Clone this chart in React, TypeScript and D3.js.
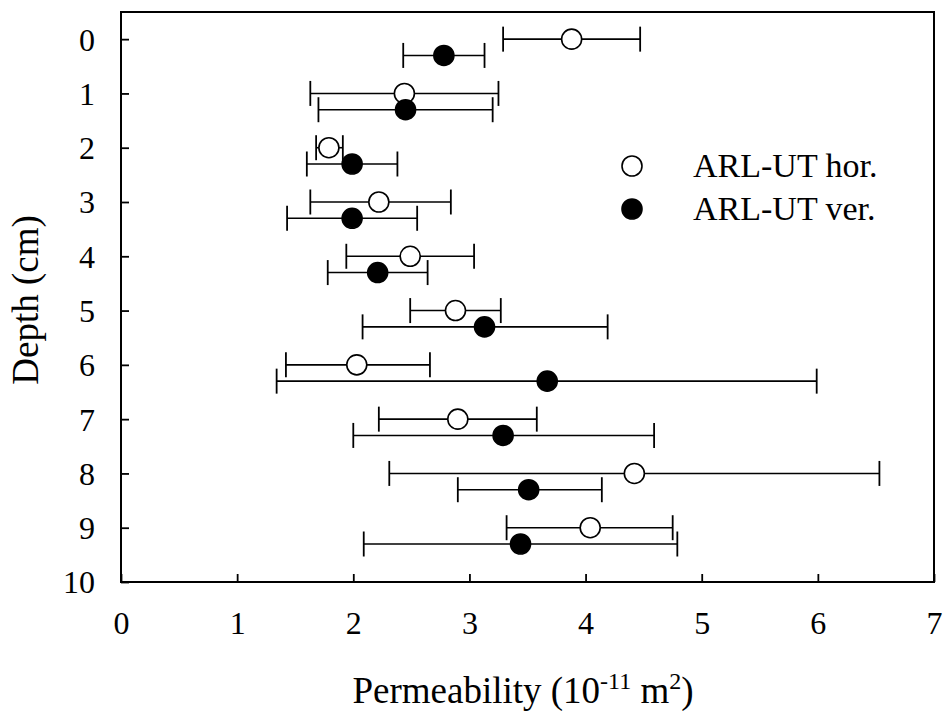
import React, { useEffect, useRef } from "react";
import * as d3 from "d3";

// depths (cm) - horizontal samples sit on the integer, vertical ones slightly below
const horDepth = [0, 1, 2, 3, 4, 5, 6, 7, 8, 9];
const verDepth = [0.3, 1.3, 2.3, 3.3, 4.3, 5.3, 6.3, 7.3, 8.3, 9.3];

// permeability (10^-11 m^2)
const horMean = [3.88, 2.44, 1.79, 2.22, 2.49, 2.88, 2.03, 2.9, 4.42, 4.04];
const horLow = [3.29, 1.63, 1.68, 1.63, 1.94, 2.49, 1.42, 2.22, 2.31, 3.32];
const horHigh = [4.47, 3.25, 1.91, 2.84, 3.04, 3.27, 2.66, 3.58, 6.53, 4.75];

const verMean = [2.78, 2.45, 1.99, 1.99, 2.21, 3.13, 3.67, 3.29, 3.51, 3.44];
const verLow = [2.43, 1.7, 1.6, 1.43, 1.78, 2.08, 1.34, 2.0, 2.9, 2.09];
const verHigh = [3.13, 3.2, 2.38, 2.55, 2.64, 4.19, 5.99, 4.59, 4.14, 4.79];

const xTicks = [0, 1, 2, 3, 4, 5, 6, 7];
const yTicks = [0, 1, 2, 3, 4, 5, 6, 7, 8, 9, 10];

const legendLabels = ["ARL-UT hor.", "ARL-UT ver."];

const FONT = "Liberation Serif, DejaVu Serif, serif";

const App = () => {
  const svgRef = useRef<SVGSVGElement>(null);

  useEffect(() => {
    const svg = d3.select(svgRef.current);
    svg.selectAll("*").remove();

    // plot box
    const left = 121, right = 934, top = 12, bottom = 582;

    const xScale = d3.scaleLinear().domain([0, 7]).range([left, right]);
    const yScale = d3.scaleLinear().domain([-0.5, 10]).range([top, bottom]);

    // frame
    svg.append("rect")
      .attr("x", left)
      .attr("y", top)
      .attr("width", right - left)
      .attr("height", bottom - top)
      .attr("fill", "none")
      .attr("stroke", "#000")
      .attr("stroke-width", 2);

    // y axis - inward ticks
    const yAxis = d3.axisLeft(yScale)
      .tickValues(yTicks)
      .tickSize(-8)
      .tickPadding(26)
      .tickFormat(d3.format("d"));
    const gy = svg.append("g")
      .attr("transform", `translate(${left},0)`)
      .call(yAxis)
      .attr("font-family", null)
      .attr("font-size", null);
    gy.select(".domain").remove();
    gy.selectAll(".tick line").attr("stroke-width", 1.8);
    gy.selectAll(".tick text")
      .style("font-family", FONT)
      .style("font-size", "32px")
      .attr("fill", "#000")
      .attr("dy", "0.34em");

    // x axis - inward ticks
    const xAxis = d3.axisBottom(xScale)
      .tickValues(xTicks)
      .tickSize(-8)
      .tickPadding(29)
      .tickFormat(d3.format("d"));
    const gx = svg.append("g")
      .attr("transform", `translate(0,${bottom})`)
      .call(xAxis)
      .attr("font-family", null)
      .attr("font-size", null);
    gx.select(".domain").remove();
    gx.selectAll(".tick line").attr("stroke-width", 1.8);
    gx.selectAll(".tick text")
      .style("font-family", FONT)
      .style("font-size", "32px")
      .attr("fill", "#000");

    // axis titles
    svg.append("text")
      .attr("transform", `translate(38,300) rotate(-90)`)
      .attr("text-anchor", "middle")
      .style("font-family", FONT)
      .style("font-size", "37px")
      .text("Depth (cm)");

    const xt = svg.append("text")
      .attr("x", 523)
      .attr("y", 703)
      .attr("text-anchor", "middle")
      .style("font-family", FONT)
      .style("font-size", "37px");
    xt.append("tspan").text("Permeability (10");
    xt.append("tspan").style("font-size", "24px").attr("dy", -14).text("-11");
    xt.append("tspan").attr("dy", 14).text(" m");
    xt.append("tspan").style("font-size", "24px").attr("dy", -14).text("2");
    xt.append("tspan").attr("dy", 14).text(")");

    // error bars + markers
    const series = [
      { depth: horDepth, mean: horMean, low: horLow, high: horHigh, fill: "#fff" },
      { depth: verDepth, mean: verMean, low: verLow, high: verHigh, fill: "#000" },
    ];
    const cap = 12.5;

    series.forEach((s) => {
      const g = svg.append("g");
      s.mean.forEach((m, i) => {
        const y = yScale(s.depth[i]);
        const x0 = xScale(s.low[i]);
        const x1 = xScale(s.high[i]);
        g.append("line")
          .attr("x1", x0).attr("x2", x1)
          .attr("y1", y).attr("y2", y)
          .attr("stroke", "#000").attr("stroke-width", 1.6);
        [x0, x1].forEach((xc) => {
          g.append("line")
            .attr("x1", xc).attr("x2", xc)
            .attr("y1", y - cap).attr("y2", y + cap)
            .attr("stroke", "#000").attr("stroke-width", 1.8);
        });
      });
      s.mean.forEach((m, i) => {
        g.append("circle")
          .attr("cx", xScale(m))
          .attr("cy", yScale(s.depth[i]))
          .attr("r", 10)
          .attr("fill", s.fill)
          .attr("stroke", "#000")
          .attr("stroke-width", 1.6);
      });
    });

    // legend
    const leg = svg.append("g");
    legendLabels.forEach((lab, i) => {
      const cy = 166 + i * 43;
      leg.append("circle")
        .attr("cx", 632)
        .attr("cy", cy)
        .attr("r", 10)
        .attr("fill", i === 0 ? "#fff" : "#000")
        .attr("stroke", "#000")
        .attr("stroke-width", 1.6);
      leg.append("text")
        .attr("x", 693)
        .attr("y", cy + 11)
        .style("font-family", FONT)
        .style("font-size", "34px")
        .text(lab);
    });
  }, []);

  return (
    <svg
      ref={svgRef}
      width={945}
      height={711}
      style={{ position: "absolute", left: 0, top: 0, background: "#fff" }}
    ></svg>
  );
};

export default App;
